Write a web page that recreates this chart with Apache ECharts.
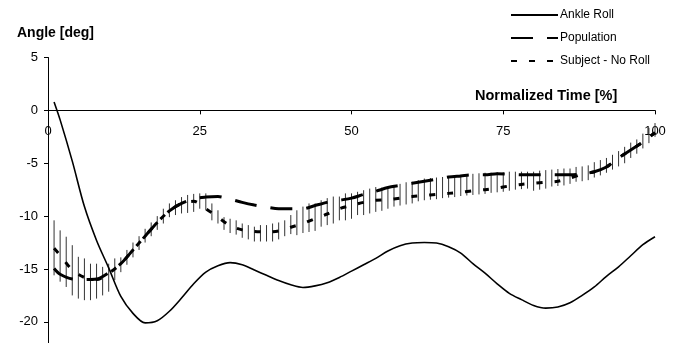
<!DOCTYPE html>
<html>
<head>
<meta charset="utf-8">
<script src="https://cdn.jsdelivr.net/npm/echarts@6/dist/echarts.min.js"></script>
<style>html,body{margin:0;padding:0;background:#fff;}#c{width:681px;height:343px;}</style>
</head>
<body>
<div id="c"></div>
<script>
// ---- data ----
const times = [1,2,4,6,8,10,12,14,16,18,20,22,24,26,28,30,32,34,36,38,40,42,44,46,48,50,52,54,56,58,60,62,64,66,68,70,72,74,76,78,80,82,84,86,88,90,92,94,96,98,100];
const ankleRoll = [0.8,-0.9,-4.8,-9.1,-12.3,-14.9,-17.6,-19.2,-20.1,-19.9,-19.0,-17.75,-16.4,-15.3,-14.7,-14.4,-14.6,-15.1,-15.6,-16.1,-16.5,-16.75,-16.6,-16.3,-15.8,-15.2,-14.6,-14.0,-13.3,-12.8,-12.55,-12.5,-12.55,-12.9,-13.5,-14.5,-15.4,-16.4,-17.3,-17.9,-18.45,-18.7,-18.6,-18.2,-17.5,-16.7,-15.7,-14.8,-13.75,-12.7,-11.95];
const population = [-14.95,-15.5,-15.95,-16.0,-15.95,-15.35,-14.5,-13.2,-11.9,-10.6,-9.5,-8.8,-8.35,-8.2,-8.15,-8.4,-8.7,-8.95,-9.15,-9.3,-9.3,-9.3,-9.0,-8.7,-8.5,-8.3,-7.95,-7.65,-7.3,-7.1,-6.9,-6.7,-6.5,-6.3,-6.2,-6.1,-6.1,-6.0,-6.05,-6.1,-6.1,-6.1,-6.1,-6.1,-6.0,-5.8,-5.35,-4.5,-3.75,-3.0,-2.1];
const subjectNoRoll = [-13.05,-13.7,-15.1,-15.8,-16.0,-15.4,-14.5,-13.2,-11.9,-10.6,-9.5,-8.8,-8.6,-9.3,-10.1,-10.9,-11.3,-11.45,-11.5,-11.4,-11.05,-10.7,-10.25,-9.8,-9.3,-9.0,-8.7,-8.5,-8.45,-8.3,-8.15,-8.05,-7.95,-7.85,-7.75,-7.6,-7.5,-7.35,-7.15,-7.0,-6.9,-6.8,-6.7,-6.4,-6.05,-5.8,-5.35,-4.5,-3.75,-3.0,-2.1];
const barTimes = [1,2,3,4,5,6,7,8,9,10,11,12,13,14,15,16,17,18,19,20,21,22,23,24,25,26,27,28,29,30,31,32,33,34,35,36,37,38,39,40,41,42,43,44,45,46,47,48,49,50,51,52,53,54,55,56,57,58,59,60,61,62,63,64,65,66,67,68,69,70,71,72,73,74,75,76,77,78,79,80,81,82,83,84,85,86,87,88,89,90,91,92,93,94,95,96,97,98,99,100];
const barHigh = [-10.4,-11.35,-11.95,-12.75,-13.85,-14.0,-14.5,-14.5,-14.8,-14.5,-14.0,-13.9,-13.2,-12.5,-11.9,-11.2,-10.6,-10.0,-9.3,-8.8,-8.5,-8.2,-8.0,-7.9,-7.85,-7.85,-8.8,-9.45,-10.1,-10.25,-10.4,-10.7,-10.85,-11.0,-10.85,-10.85,-10.7,-10.6,-10.4,-9.9,-9.45,-9.1,-8.8,-8.8,-8.5,-8.3,-8.15,-8.15,-7.85,-7.85,-7.7,-7.55,-7.4,-7.25,-7.3,-7.2,-7.05,-6.95,-6.8,-6.75,-6.6,-6.45,-6.4,-6.35,-6.3,-6.2,-6.15,-6.1,-6.05,-6.0,-5.95,-5.9,-5.9,-5.85,-5.85,-5.8,-5.8,-5.8,-5.8,-5.8,-5.7,-5.65,-5.6,-5.55,-5.5,-5.5,-5.35,-5.3,-5.2,-4.9,-4.7,-4.5,-4.2,-3.85,-3.45,-3.05,-2.75,-2.2,-1.65,-1.2];
const barLow = [-15.6,-16.2,-16.7,-17.5,-17.8,-17.95,-17.95,-17.8,-17.5,-17.15,-16.05,-15.3,-14.6,-13.9,-13.2,-12.5,-11.9,-11.3,-10.7,-10.1,-9.9,-9.75,-9.7,-9.6,-9.3,-9.45,-10.4,-10.7,-11.3,-11.6,-11.75,-12.05,-12.2,-12.4,-12.4,-12.4,-12.4,-12.2,-11.9,-11.7,-11.8,-11.6,-11.5,-11.4,-11.0,-10.85,-10.7,-10.4,-10.4,-10.25,-9.9,-9.9,-9.75,-9.6,-9.5,-9.3,-9.1,-9.0,-8.9,-8.8,-8.6,-8.5,-8.45,-8.4,-8.3,-8.25,-8.2,-8.1,-8.05,-8.0,-7.95,-7.9,-7.8,-7.75,-7.7,-7.6,-7.5,-7.45,-7.4,-7.6,-7.5,-7.4,-7.2,-7.15,-7.1,-6.95,-6.75,-6.7,-6.6,-6.35,-6.15,-5.9,-5.6,-5.3,-5.0,-4.5,-4.1,-3.6,-3.1,-2.5];
const xTicks = [0,25,50,75,100];
const yTicks = [5,0,-5,-10,-15,-20];
const seriesNames = ['Ankle Roll','Population','Subject - No Roll'];
const yMin = -22, yMax = 5;

const pairs = (xs, ys) => xs.map((x, i) => [x, ys[i]]);
const bars = barTimes.map((x, i) => [x, barHigh[i], barLow[i]]);

const FONT = '"Liberation Sans", Arial, sans-serif';
const H = 343, gridTop = 57.5, gridBottom = 0;
const gridH = H - gridTop - gridBottom;
// distance from bottom edge of the grid to the value-0 line, so the x axis sits on y = 0
const zeroOffset = gridH * (0 - yMin) / (yMax - yMin);

const chart = echarts.init(document.getElementById('c'), null, {renderer: 'canvas'});
chart.setOption({
  animation: false,
  backgroundColor: '#fff',
  textStyle: {fontFamily: FONT, color: '#000'},
  grid: {left: 48, right: 26, top: gridTop, bottom: gridBottom, containLabel: false, outerBoundsMode: 'none'},
  legend: {
    data: seriesNames,
    orient: 'vertical',
    left: 510, top: 9, padding: 0,
    itemWidth: 47, itemHeight: 14, itemGap: 11,
    itemStyle: {opacity: 0},
    textStyle: {fontFamily: FONT, fontSize: 12, color: '#000', padding: [0,0,0,-3]},
    selectedMode: false
  },
  graphic: [
    {type: 'text', left: 17, top: 26, style: {text: 'Angle [deg]', font: 'bold 14px ' + FONT, fill: '#000'}},
    {type: 'text', left: 475, top: 88, style: {text: 'Normalized Time [%]', font: 'bold 14.5px ' + FONT, fill: '#000'}}
  ],
  xAxis: {
    type: 'value', min: 0, max: 100, interval: 25,
    position: 'bottom', offset: -zeroOffset,
    axisLine: {onZero: false, lineStyle: {color: '#000', width: 1}},
    axisTick: {show: true, length: 4, lineStyle: {color: '#000'}},
    axisLabel: {margin: 15, fontSize: 13, color: '#000', fontFamily: FONT, customValues: xTicks},
    splitLine: {show: false}
  },
  yAxis: {
    type: 'value', min: yMin, max: yMax,
    axisLine: {show: true, onZero: false, lineStyle: {color: '#000', width: 1}},
    axisTick: {show: true, length: 4, customValues: yTicks, lineStyle: {color: '#000'}},
    axisLabel: {margin: 10, fontSize: 13, color: '#000', fontFamily: FONT, customValues: yTicks},
    splitLine: {show: false}
  },
  series: [
    {
      name: 'errorbars', type: 'custom', silent: true, z: 1,
      data: bars,
      encode: {x: 0, y: [1, 2]},
      renderItem: function (params, api) {
        const x = api.value(0);
        const p1 = api.coord([x, api.value(1)]);
        const p2 = api.coord([x, api.value(2)]);
        return {type: 'line', shape: {x1: p1[0], y1: p1[1], x2: p2[0], y2: p2[1]},
                style: {stroke: '#333', lineWidth: 1}};
      }
    },
    {
      name: seriesNames[1], type: 'line', data: pairs(times, population), z: 3,
      symbol: 'none', smooth: 0.3,
      lineStyle: {color: '#000', width: 3, type: [22, 14]}, itemStyle: {color: '#000'}
    },
    {
      name: seriesNames[2], type: 'line', data: pairs(times, subjectNoRoll), z: 3,
      symbol: 'none', smooth: 0.3,
      lineStyle: {color: '#000', width: 3, type: [6, 12]}, itemStyle: {color: '#000'}
    },
    {
      name: seriesNames[0], type: 'line', data: pairs(times, ankleRoll), z: 4,
      symbol: 'none', smooth: 0.3,
      lineStyle: {color: '#000', width: 1.6, type: 'solid'}, itemStyle: {color: '#000'}
    }
  ]
});
</script>
</body>
</html>
